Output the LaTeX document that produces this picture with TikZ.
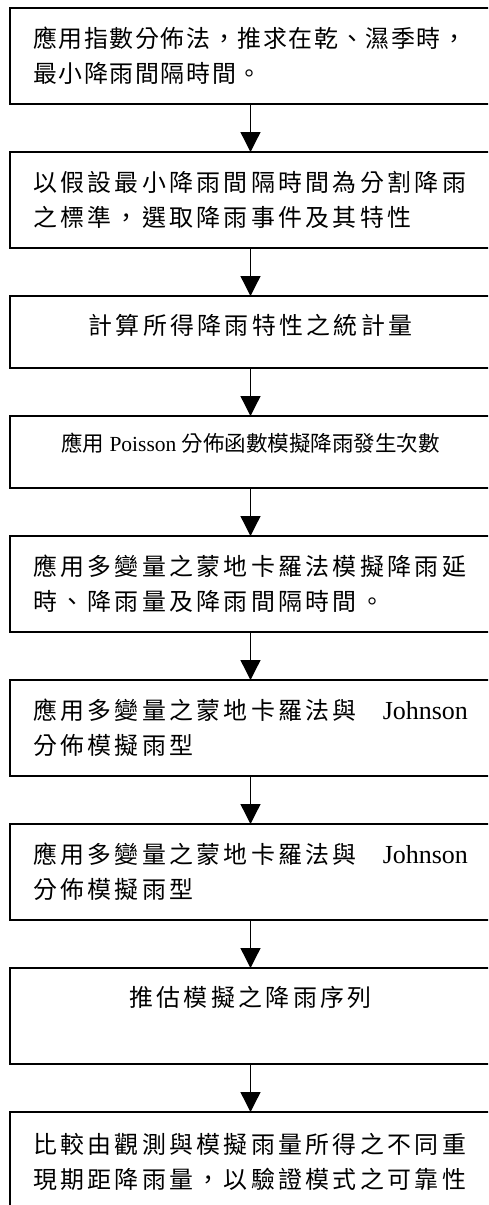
\documentclass[tikz,border=0pt]{standalone}
\usepackage{fontspec}
\setmainfont{Liberation Serif}
\newfontfamily\cjk[Scale=0.92,LetterSpace=14]{Noto Sans CJK TC}
\newfontfamily\cjknarrow[Scale=0.92,LetterSpace=7]{Noto Sans CJK TC}
\newfontfamily\cjktight{Noto Sans CJK TC}
\usetikzlibrary{positioning,arrows.meta}

\begin{document}
\begin{tikzpicture}[x=1pt,y=1pt,
		box/.style={draw,line width=2.4pt,outer sep=0pt,minimum width=481pt,minimum height=96pt,font=\fontsize{26}{35}\selectfont},
		tall/.style={box,text width=435pt,align=left},
		short/.style={box,minimum height=72pt},
		flow/.style={line width=1.3pt,-{Triangle[length=20pt,width=20pt]}}]
			\clip (0,0) rectangle (488,-1205);
			
			\node[tall,anchor=north] (b1) at (250.5,-8) {\cjknarrow 應用指數分佈法，推求在乾、濕季時，\\最小降雨間隔時間。};
			\node[tall,below=48pt of b1] (b2) {\cjk 以假設最小降雨間隔時間為分割降雨\\之標準，選取降雨事件及其特性};
			\node[short,below=48pt of b2,text depth=15pt] (b3) {\cjk 計算所得降雨特性之統計量};
			\node[short,below=48pt of b3,text depth=19pt,font=\fontsize{21.5}{26}\selectfont] (b4) {{\cjktight 應用} Poisson {\cjktight 分佈函數模擬降雨發生次數}};
			\node[tall,below=48pt of b4] (b5) {\cjk 應用多變量之蒙地卡羅法模擬降雨延\\時、降雨量及降雨間隔時間。};
			\node[tall,below=48pt of b5] (b6) {{\cjk 應用多變量之蒙地卡羅法與}\hfill Johnson\\{\cjk 分佈模擬雨型}};
			\node[tall,below=48pt of b6] (b7) {{\cjk 應用多變量之蒙地卡羅法與}\hfill Johnson\\{\cjk 分佈模擬雨型}};
			\node[box,below=48pt of b7,text depth=39pt] (b8) {\cjk 推估模擬之降雨序列};
			\node[tall,below=48pt of b8,minimum height=100pt] (b9) {\cjk 比較由觀測與模擬雨量所得之不同重\\現期距降雨量，以驗證模式之可靠性};
			
			\foreach \a/\b in {b1/b2,b2/b3,b3/b4,b4/b5,b5/b6,b6/b7,b7/b8,b8/b9}
				\draw[flow] (\a) -- (\b);
			\end{tikzpicture}
\end{document}
